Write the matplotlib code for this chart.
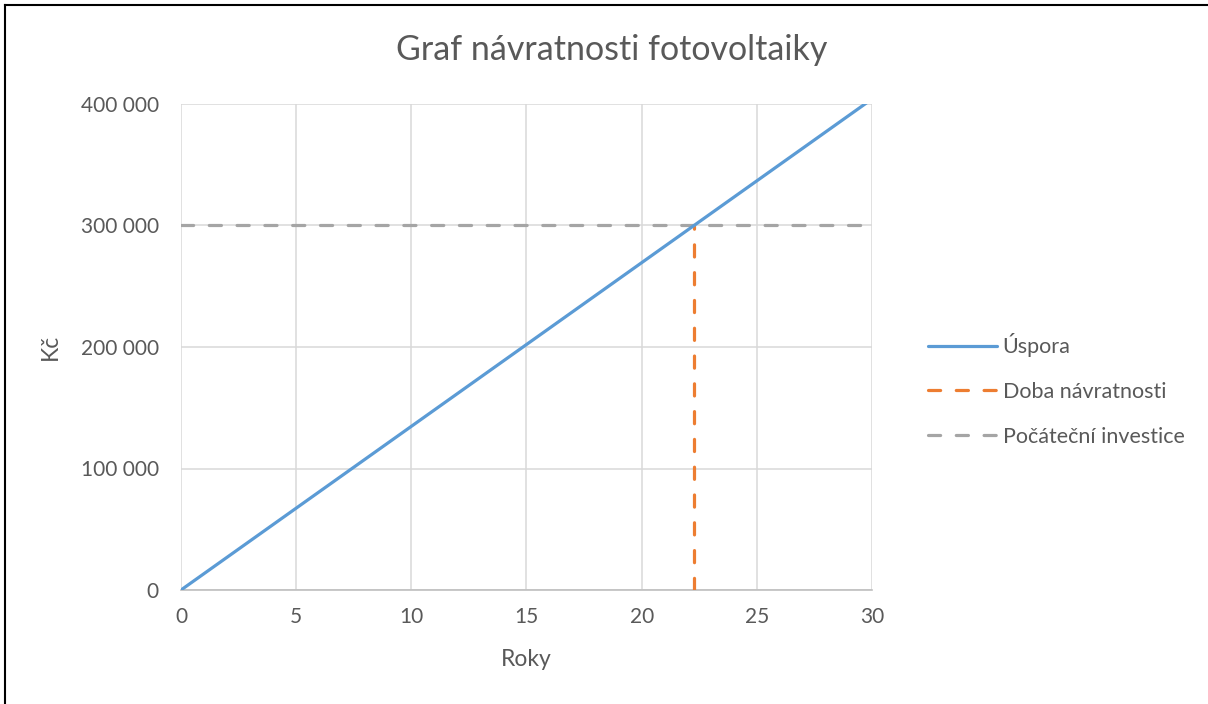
import matplotlib
matplotlib.use("Agg")
import matplotlib.pyplot as plt
from matplotlib.lines import Line2D
from matplotlib.ticker import FuncFormatter

# Data
years = [0, 30]
savings = [0, 404100]          # Úspora (roughly 13 470 Kč per year)
payback_year = 22.27            # Doba návratnosti
payback_x = [payback_year, payback_year]
payback_y = [0, 300000]
invest_x = [0, 30]
invest_y = [300000, 300000]     # Počáteční investice

title = "Graf návratnosti fotovoltaiky"
xlabel = "Roky"
ylabel = "Kč"
labels = ["Úspora", "Doba návratnosti", "Počáteční investice"]
xticks = [0, 5, 10, 15, 20, 25, 30]
yticks = [0, 100000, 200000, 300000, 400000]

plt.rcParams['font.family'] = ['Lato', 'DejaVu Sans']
txt = '#595959'
blue = '#5b9bd5'
orange = '#ed7d31'
gray = '#a5a5a5'
DASH = (3.8, 4.9)
LW = 2.3

fig = plt.figure(figsize=(12.08, 7.04), dpi=100)
ax = fig.add_axes([181/1208, 114/704, (872-181)/1208, (590-104)/704])

ax.plot(years, savings, color=blue, lw=LW, solid_capstyle='round', label=labels[0], zorder=4)
ax.plot(payback_x, payback_y, color=orange, lw=LW, dashes=DASH, dash_capstyle='round', label=labels[1], zorder=3)
ax.plot(invest_x, invest_y, color=gray, lw=LW, dashes=DASH, dash_capstyle='round', label=labels[2], zorder=3)

ax.set_xlim(0, 30)
ax.set_ylim(0, 400000)
ax.set_xticks(xticks)
ax.set_yticks(yticks)
ax.yaxis.set_major_formatter(FuncFormatter(lambda v, p: f"{int(v):,}".replace(",", " ")))
ax.grid(True, color='#d9d9d9', lw=1.1)
ax.set_axisbelow(True)
for s in ['top', 'right', 'left']:
    ax.spines[s].set_visible(False)
ax.spines['bottom'].set_color('#bfbfbf')
ax.spines['bottom'].set_linewidth(1.2)
ax.tick_params(length=0, labelsize=15, labelcolor=txt)
ax.tick_params(axis='x', pad=12)
ax.tick_params(axis='y', pad=16)

ax.set_xlabel(xlabel, fontsize=16.5, color=txt, labelpad=16)
ax.set_ylabel(ylabel, fontsize=16.5, color=txt, labelpad=14)
fig.text(612/1208, 1 - 50/704, title, ha='center', va='center', fontsize=24.5, color=txt)

handles = [Line2D([], [], color=blue, lw=LW, solid_capstyle='round'),
           Line2D([], [], color=orange, lw=LW, dashes=DASH, dash_capstyle='round'),
           Line2D([], [], color=gray, lw=LW, dashes=DASH, dash_capstyle='round')]
leg = fig.legend(handles, labels, loc='center left', bbox_to_anchor=(909/1208, 1 - 390/704),
                 frameon=False, fontsize=15.5, handlelength=3.2, handletextpad=0.25,
                 labelspacing=1.15, labelcolor=txt)

# partial chart border (top and left visible)
fig.add_artist(Line2D([5/1208, 5/1208], [0, 1 - 5/704], transform=fig.transFigure, color='black', lw=1.5))
fig.add_artist(Line2D([5/1208, 1], [1 - 5/704, 1 - 5/704], transform=fig.transFigure, color='black', lw=1.5))

fig.savefig('out.png', dpi=100, facecolor='white')
